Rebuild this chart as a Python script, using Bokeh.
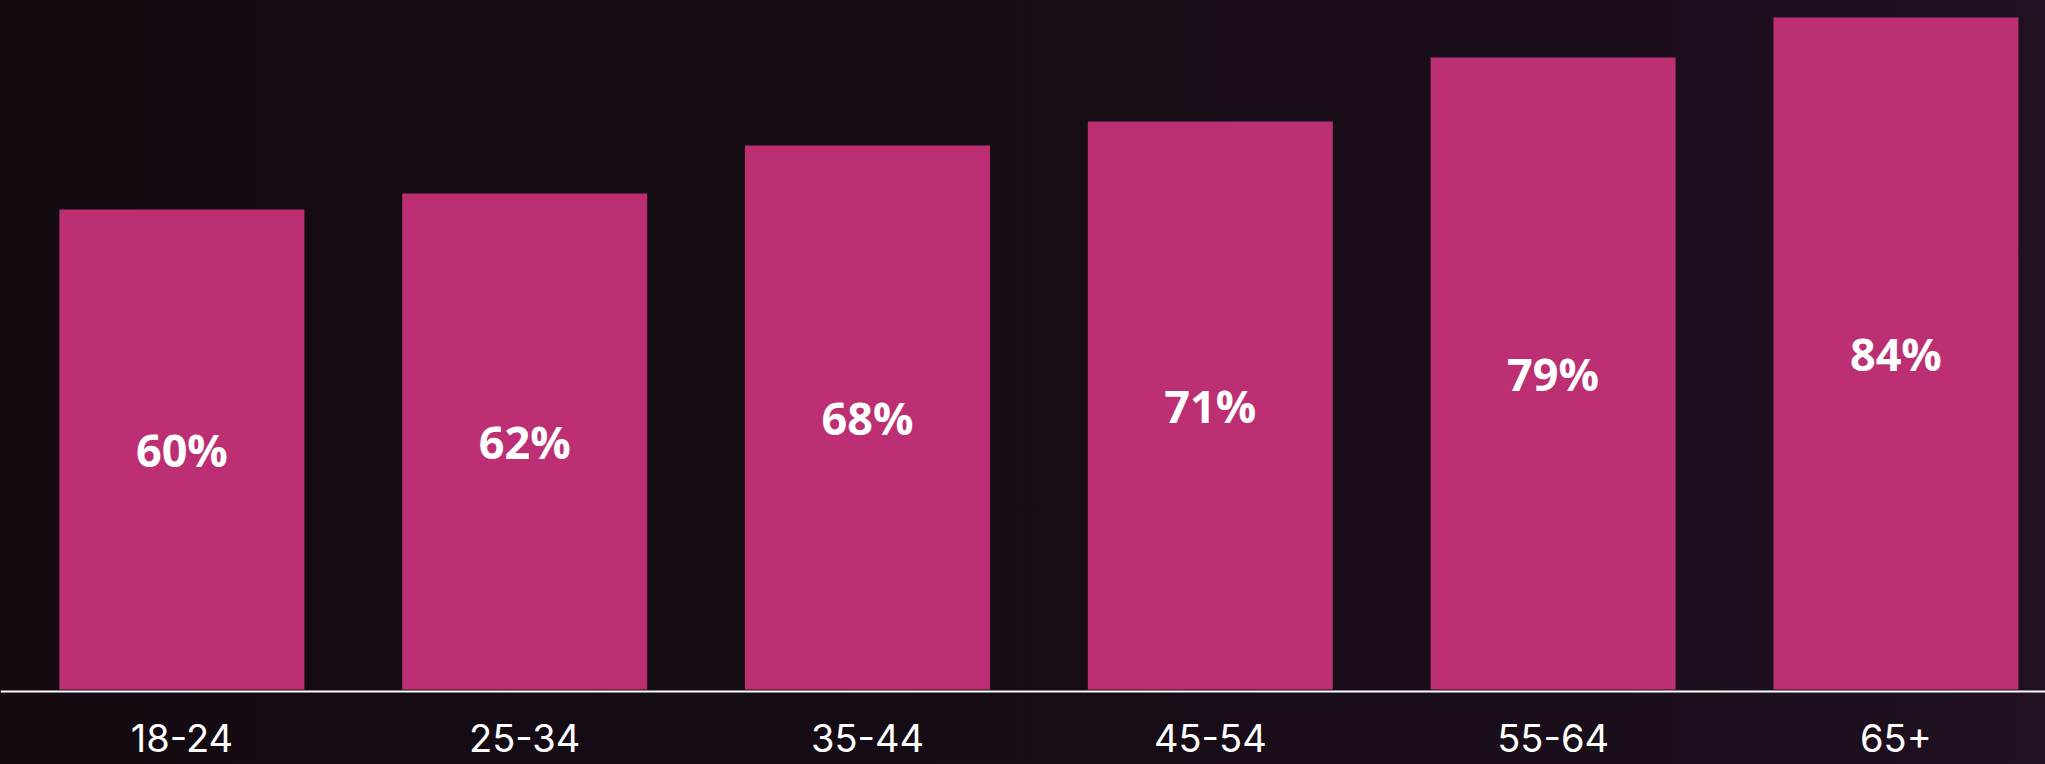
from bokeh.plotting import figure
from bokeh.models import ColumnDataSource, Range1d, Span
from bokeh.core.properties import value
from bokeh.embed import file_html
from bokeh.resources import INLINE

# Data
categories = ["18-24", "25-34", "35-44", "45-54", "55-64", "65+"]
shares = [60, 62, 68, 71, 79, 84]
share_labels = [f"{v}%" for v in shares]

BAR_COLOR = "#bc2f73"

positions = list(range(len(categories)))
src = ColumnDataSource(dict(
    x=positions,
    top=shares,
    mid=[v / 2 for v in shares],
    label=share_labels,
))
cat_src = ColumnDataSource(dict(x=positions, y=[-6.1] * len(categories), cat=categories))

p = figure(
    width=2045, height=764,
    x_range=Range1d(-0.52917, 5.43641),
    y_range=Range1d(-9.375, 86.125),
    x_axis_location=None, y_axis_location=None,
    toolbar_location=None, output_backend="svg",
    min_border=0,
)
p.background_fill_alpha = 0
p.border_fill_alpha = 0
p.outline_line_color = None
p.grid.visible = False

p.vbar(x="x", top="top", bottom=0, width=0.7147, source=src,
       fill_color=BAR_COLOR, line_color=None)

p.text(x="x", y="mid", text="label", source=src,
       text_font=value("Open Sans"), text_font_style="bold",
       text_font_size="45px", text_color="white",
       text_align="center", text_baseline="middle")

p.text(x="x", y="y", text="cat", source=cat_src,
       text_font=value("Inter"), text_font_size="38px", text_color="white",
       text_align="center", text_baseline="middle")

p.add_layout(Span(location=-0.25, dimension="width", line_color="white", line_width=2))

html = file_html(p, INLINE)
css = ("<style>html{height:100%;background:linear-gradient(to right,#130a12 0%,#160c16 55%,#201020 100%);}"
       "body{background:transparent;}</style>")
html = html.replace("<head>", "<head>" + css, 1)
open("out.html", "w").write(html)
